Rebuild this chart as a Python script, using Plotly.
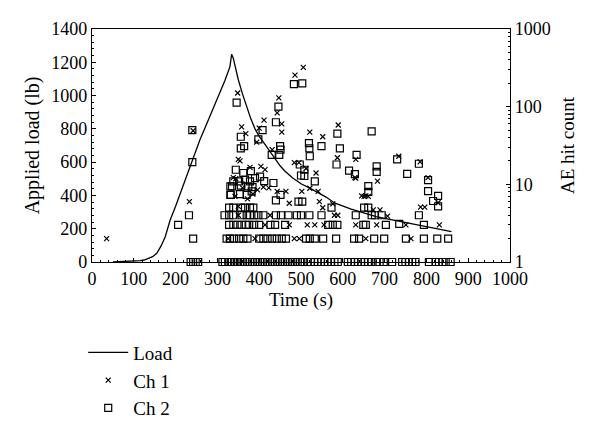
import plotly.graph_objects as go

# Load curve (time s, load lb)
load_t = [50, 80, 100, 115, 125, 135, 145, 155, 165, 175, 187, 200, 211, 222, 234, 246, 258, 270, 282, 294,
          306, 318, 330, 334, 338, 342, 346, 350, 360, 370, 380, 390, 400, 410, 420, 430, 440, 450, 460, 470,
          480, 490, 500, 520, 540, 560, 580, 600, 620, 640, 660, 680, 700, 720, 740, 760, 780, 800, 820, 840, 860]
load_v = [0, 2, 5, 8, 12, 20, 32, 52, 95, 150, 252, 335, 413, 485, 565, 650, 733, 803, 873, 945,
          1014, 1090, 1174, 1248, 1225, 1180, 1130, 1095, 1010, 930, 860, 800, 755, 720, 685, 645, 610, 578, 550, 525,
          505, 488, 470, 445, 418, 390, 355, 335, 318, 302, 285, 272, 262, 252, 242, 232, 222, 212, 202, 193, 182]

# Ch 1 AE hits (time s, hit count)
ch1_t = [35, 242, 233, 485.6, 505.5, 348.5, 447, 443, 454, 411.5, 400, 358, 368, 394, 454, 431, 521, 552, 589, 587,
         631, 631, 683, 651, 661, 734, 785, 804, 828, 786, 796, 831, 751, 763,
         350, 354, 378, 404, 414, 338, 344, 410, 423, 443, 464, 502, 484, 495, 512, 536, 541, 544, 472, 552,
         576, 350, 426, 350, 580, 588, 673, 689, 707, 414, 472, 515, 533, 555, 631, 681, 390, 484, 496, 655,
         326, 342, 360, 372, 385, 396, 629, 645, 655, 521]
ch1_v = [2, 49, 6, 255, 320, 150, 130, 83, 60, 67, 53, 55, 45, 35, 47, 28, 47, 41, 58, 22,
         21, 12, 11, 7, 7, 23, 19.5, 12.2, 5.8, 5.1, 5.1, 3, 3, 2,
         21, 20, 16.5, 17, 15.5, 12.2, 11.8, 9.2, 9, 8.1, 8.1, 8.1, 19, 19, 16, 14, 8.1, 6, 5.7, 5,
         5.6, 5.2, 4, 4, 4, 4, 4.7, 4.7, 3.9, 3, 3, 3, 3, 3, 3, 3, 2, 2, 2, 2,
         2, 7, 9, 6.5, 7.5, 8.5, 12.2, 7.1, 7.1, 8.9]

# Ch 2 AE hits (time s, hit count)
ch2_t = [483, 503, 346, 446, 440, 408, 356, 364, 356, 398, 450, 451, 448, 430, 519, 520, 521, 549, 587, 593,
         585, 669, 633, 615, 629, 681, 681, 661, 661, 651, 661, 730, 240, 240, 232, 206, 242,
         754, 782, 804, 804, 816, 828, 828,
         344, 362, 380, 338, 352, 366, 378, 390, 402, 412, 335, 356, 374, 384, 434, 332, 354, 370, 382,
         440, 451, 494, 503, 500, 508, 508, 497, 533, 331, 331,
         328, 338, 357, 366, 378, 386, 573,
         317, 328, 338, 358, 370, 378, 388, 398, 410, 440, 452, 470, 490, 500, 520, 549, 631, 669, 677, 693, 782,
         328, 338, 348, 358, 368, 376, 388, 400, 427, 438, 462, 565, 576, 587, 649, 655, 703, 735, 794,
         322, 330, 340, 352, 362, 372, 400, 410, 420, 431, 442, 454, 464, 512, 521, 533, 553, 584, 627, 639,
         675, 699, 751, 794, 826, 852,
         236, 242, 248, 254, 312, 318, 326, 333, 340, 347, 354, 360, 366, 372, 378, 384, 390, 396, 402, 408,
         414, 420, 426, 432, 438, 444, 450, 456, 462, 468, 474, 480, 486, 492, 498, 504, 516, 524, 532, 540,
         548, 556, 564, 572, 580, 588, 612, 620, 628, 636, 644, 652, 660, 668, 680, 688, 698, 718, 742, 750,
         758, 766, 774, 806, 822, 830, 838, 846, 858]
ch2_v = [195, 200, 113, 100, 63, 50, 41, 31, 29, 38, 31, 28, 24, 24, 34, 29, 23, 31, 45, 29,
         18, 48, 24, 15, 13.5, 17, 14.5, 9.5, 8, 5, 5, 21, 50, 19.3, 4, 3, 2,
         13.6, 18.4, 11.3, 8.2, 6.1, 7.1, 5.2,
         15.4, 14, 14.8, 10.9, 10.9, 11.5, 10.9, 12, 12.6, 11, 9.4, 9.6, 9.4, 9.2, 10.4, 7.3, 7.5, 7.3, 8.1,
         6.2, 7.3, 6, 6, 13, 15.4, 12.8, 18, 10.9, 9.4, 7.3,
         5, 5, 5, 5, 5, 5, 5,
         4, 4, 4, 4, 4, 4, 4, 4, 4, 4, 4, 4, 4, 4, 4, 4, 4, 4, 4, 4, 4,
         3, 3, 3, 3, 3, 3, 3, 3, 3, 3, 3, 3, 3, 3, 3, 3, 3, 3.1, 3,
         2, 2, 2, 2, 2, 2, 2, 2, 2, 2, 2, 2, 2, 2, 2, 2, 2, 2, 2, 2,
         2, 2, 2, 2, 2, 2,
         1, 1, 1, 1, 1, 1, 1, 1, 1, 1, 1, 1, 1, 1, 1, 1, 1, 1, 1, 1,
         1, 1, 1, 1, 1, 1, 1, 1, 1, 1, 1, 1, 1, 1, 1, 1, 1, 1, 1, 1,
         1, 1, 1, 1, 1, 1, 1, 1, 1, 1, 1, 1, 1, 1, 1, 1, 1, 1, 1, 1,
         1, 1, 1, 1, 1, 1, 1, 1, 1]

FONT = "Liberation Serif"

fig = go.Figure()
fig.add_trace(go.Scatter(x=load_t, y=load_v, mode="lines", name="Load",
                         line=dict(color="black", width=1.3), yaxis="y"))
fig.add_trace(go.Scatter(x=ch1_t, y=ch1_v, mode="markers", name="Ch 1", yaxis="y2",
                         marker=dict(symbol="x-thin", size=5, color="black",
                                     line=dict(color="black", width=1.2)),
                         cliponaxis=False))
fig.add_trace(go.Scatter(x=ch2_t, y=ch2_v, mode="markers", name="Ch 2", yaxis="y2",
                         marker=dict(symbol="square-open", size=7, color="black",
                                     line=dict(color="black", width=1.2)),
                         cliponaxis=False))

axis_common = dict(showline=True, linecolor="black", linewidth=1.2, showgrid=False, zeroline=False,
                   ticks="inside", tickcolor="black", ticklen=4, automargin=False,
                   tickfont=dict(family=FONT, size=18, color="black"))

fig.update_layout(
    width=600, height=440,
    margin=dict(l=84, r=98, t=21, b=186),
    paper_bgcolor="white", plot_bgcolor="white",
    font=dict(family=FONT, size=18, color="black"),
    xaxis=dict(range=[0, 1000], dtick=100, mirror=True,
               title=dict(text="Time (s)", font=dict(family=FONT, size=19), standoff=4),
               minor=dict(dtick=20, ticks="inside", ticklen=2, tickcolor="black"),
               **axis_common),
    yaxis=dict(range=[0, 1400], dtick=200,
               title=dict(text="Applied load (lb)", font=dict(family=FONT, size=20), standoff=6),
               minor=dict(dtick=40, ticks="inside", ticklen=2, tickcolor="black"),
               **axis_common),
    yaxis2=dict(type="log", range=[0, 3], dtick=1, overlaying="y", side="right",
                title=dict(text="AE hit count", font=dict(family=FONT, size=19), standoff=10),
                minor=dict(ticks="inside", ticklen=2, tickcolor="black", dtick="D1"),
                **axis_common),
    showlegend=True,
    legend=dict(x=-0.021, y=-0.307, xanchor="left", yanchor="top", bgcolor="rgba(0,0,0,0)",
                font=dict(family=FONT, size=19), itemwidth=40, tracegroupgap=0),
)

fig.write_html("out.html")
